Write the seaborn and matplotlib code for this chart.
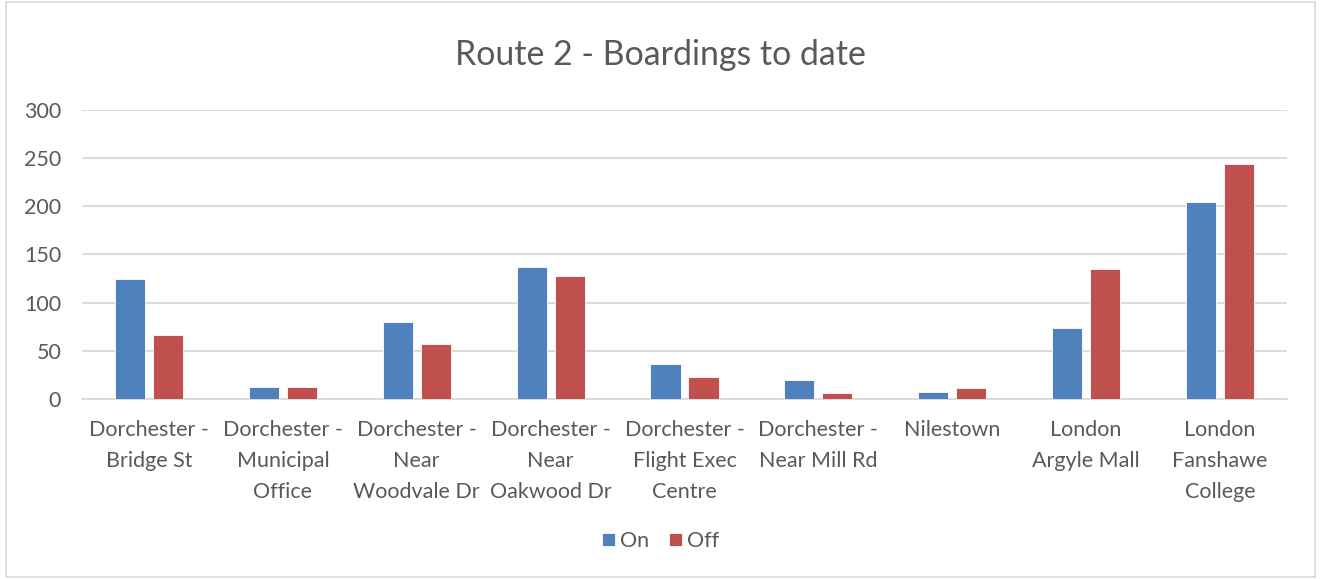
import matplotlib
matplotlib.use("Agg")
import matplotlib.pyplot as plt
import seaborn as sns
import pandas as pd
from matplotlib.patches import Rectangle

stops = ["Dorchester -\nBridge St", "Dorchester -\nMunicipal\nOffice", "Dorchester -\nNear\nWoodvale Dr",
         "Dorchester -\nNear\nOakwood Dr", "Dorchester -\nFlight Exec\nCentre", "Dorchester -\nNear Mill Rd",
         "Nilestown", "London\nArgyle Mall", "London\nFanshawe\nCollege"]
on_vals = [125, 12, 80, 137, 36, 20, 7, 74, 205]
off_vals = [66, 12, 57, 128, 23, 6, 11, 135, 244]
series = ["On", "Off"]
y_ticks = [0, 50, 100, 150, 200, 250, 300]
title = "Route 2 - Boardings to date"

df = pd.DataFrame({
    "stop": stops * 2,
    "value": on_vals + off_vals,
    "series": ["On"] * len(stops) + ["Off"] * len(stops),
})

sns.set_theme(style="white")
plt.rcParams['font.family'] = ['Lato', 'DejaVu Sans']
txt = "#595959"

fig = plt.figure(figsize=(13.21, 5.79), dpi=100)
ax = fig.add_axes([82/1321, 1 - 399/579, (1287-82)/1321, 289/579])

sns.barplot(data=df, x="stop", y="value", hue="series", hue_order=series,
            palette={"On": "#4F81BD", "Off": "#C0504D"}, saturation=1, width=0.568, gap=0.21,
            edgecolor="white", linewidth=0.6, ax=ax, legend=True, zorder=3)

ax.set_ylim(0, 300)
ax.set_yticks(y_ticks)
ax.set_xlim(-0.5, len(stops) - 0.5)
ax.yaxis.grid(True, color="#D9D9D9", linewidth=1.3, zorder=0)
ax.set_axisbelow(True)
for s in ["top", "right", "left"]:
    ax.spines[s].set_visible(False)
ax.spines["bottom"].set_color("#D9D9D9")
ax.spines["bottom"].set_linewidth(1.3)
ax.tick_params(axis="both", length=0, colors=txt, labelsize=15.5)
ax.tick_params(axis="x", pad=15)
ax.tick_params(axis="y", pad=15)
for lab in ax.get_xticklabels():
    lab.set_linespacing(1.68)
ax.set_xlabel("")
ax.set_ylabel("")

fig.text(0.5, 1 - 55/579, title, ha="center", va="center", fontsize=24.4, color=txt)

leg = ax.legend(loc="center", bbox_to_anchor=(0.5, 1 - 541/579), bbox_transform=fig.transFigure,
                ncol=2, frameon=False, fontsize=15.5, handlelength=0.6, handleheight=0.6,
                handletextpad=0.25, columnspacing=0.9)
for t in leg.get_texts():
    t.set_color(txt)

fig.patches.append(Rectangle((6/1321, 2/579), 1309/1321, 575/579, transform=fig.transFigure,
                             fill=False, edgecolor="#D9D9D9", linewidth=1.2))

fig.savefig("out.png", dpi=100, facecolor="white")
